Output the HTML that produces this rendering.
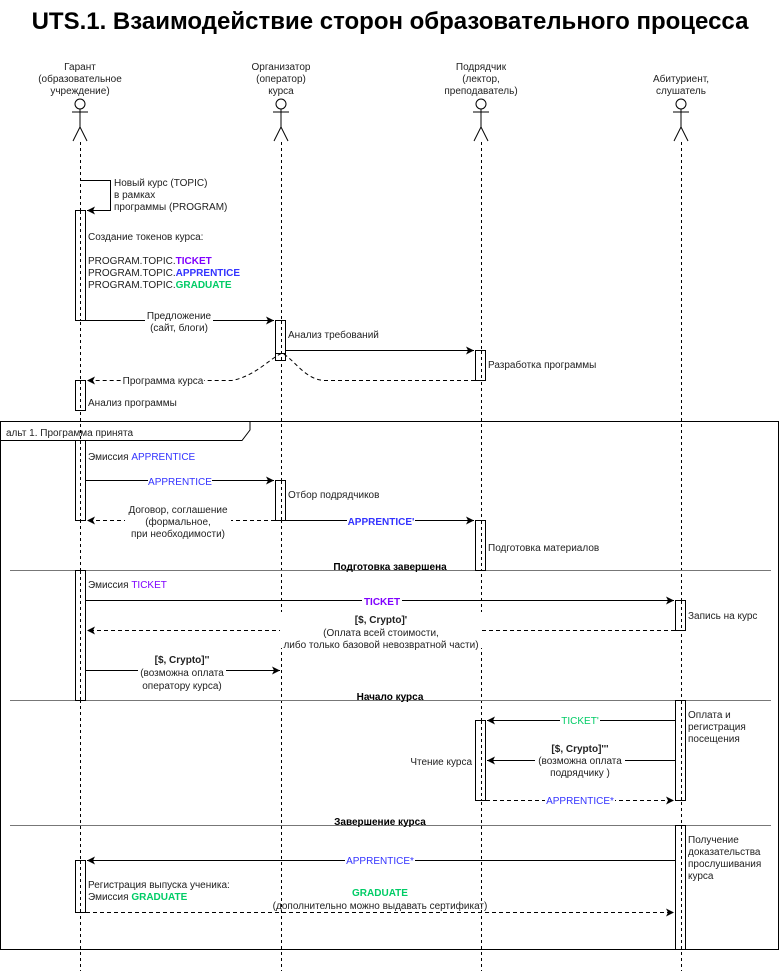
<!DOCTYPE html>
<html><head><meta charset="utf-8"><style>
html,body{margin:0;padding:0;background:#fff;}
svg{display:block;}
text{font-family:"Liberation Sans",sans-serif;font-size:10px;fill:#222;}
.b{font-weight:bold;}
.c{text-anchor:middle;}
.r{text-anchor:end;}
.bl{fill:#3333ff;}
.pu{fill:#7f00ff;}
.gr{fill:#00cc66;}
</style></head><body>
<svg width="781" height="971" viewBox="0 0 781 971" xmlns="http://www.w3.org/2000/svg">
<defs>
<marker id="a" markerWidth="10" markerHeight="10" refX="8" refY="4" orient="auto" markerUnits="userSpaceOnUse"><path d="M0,0 L8,4 L0,8 L2,4 z" fill="#000"/></marker>
</defs>
<text x="390" y="29" class="c b" style="font-size:24px;fill:#000">UTS.1. Взаимодействие сторон образовательного процесса</text>

<g stroke="#000" fill="none" stroke-width="1">
<g id="act"><circle cx="80" cy="104" r="5"/><line x1="72" y1="112" x2="88" y2="112"/><line x1="80" y1="109" x2="80" y2="127"/><line x1="80" y1="127" x2="73" y2="141"/><line x1="80" y1="127" x2="87" y2="141"/></g>
<use href="#act" x="201"/><use href="#act" x="401"/><use href="#act" x="601"/>
</g>
<text x="80" y="70" class="c">Гарант</text><text x="80" y="82" class="c">(образовательное</text><text x="80" y="94" class="c">учреждение)</text>
<text x="281" y="70" class="c">Организатор</text><text x="281" y="82" class="c">(оператор)</text><text x="281" y="94" class="c">курса</text>
<text x="481" y="70" class="c">Подрядчик</text><text x="481" y="82" class="c">(лектор,</text><text x="481" y="94" class="c">преподаватель)</text>
<text x="681" y="82" class="c">Абитуриент,</text><text x="681" y="94" class="c">слушатель</text>

<g stroke="#000" stroke-dasharray="3,3" stroke-width="1">
<line x1="80.5" y1="142" x2="80.5" y2="971"/><line x1="281.5" y1="142" x2="281.5" y2="971"/>
<line x1="481.5" y1="142" x2="481.5" y2="971"/><line x1="681.5" y1="142" x2="681.5" y2="971"/>
</g>

<g fill="none" stroke="#000">
<rect x="0.5" y="421.5" width="778" height="528"/>
<path d="M0.5,440.5 H242 L250,430 V421.5"/>
</g>
<text x="6" y="436">альт 1. Программа принята</text>
<g stroke="#777" stroke-width="1">
<line x1="10" y1="570.5" x2="771" y2="570.5"/>
<line x1="10" y1="700.5" x2="771" y2="700.5"/>
<line x1="10" y1="825.5" x2="771" y2="825.5"/>
</g>
<g>
<rect x="332" y="560" width="115" height="10" fill="#fff"/><text x="390" y="570" class="c b" style="fill:#000">Подготовка завершена</text>
<rect x="352" y="690" width="76" height="10" fill="#fff"/><text x="390" y="700" class="c b" style="fill:#000">Начало курса</text>
<rect x="338" y="815" width="85" height="10" fill="#fff"/><text x="380" y="825" class="c b" style="fill:#000">Завершение курса</text>
</g>

<g fill="#fff" stroke="#000">
<rect x="75.5" y="210.5" width="10" height="110"/>
<rect x="275.5" y="320.5" width="10" height="40"/>
<rect x="275.5" y="353.5" width="10" height="7"/>
<rect x="475.5" y="350.5" width="10" height="30"/>
<rect x="75.5" y="380.5" width="10" height="30"/>
<rect x="75.5" y="440.5" width="10" height="80"/>
<rect x="275.5" y="480.5" width="10" height="40"/>
<rect x="475.5" y="520.5" width="10" height="50"/>
<rect x="75.5" y="570.5" width="10" height="130"/>
<rect x="675.5" y="600.5" width="10" height="30"/>
<rect x="675.5" y="700.5" width="10" height="100"/>
<rect x="475.5" y="720.5" width="10" height="80"/>
<rect x="675.5" y="825.5" width="10" height="124"/>
<rect x="75.5" y="860.5" width="10" height="52"/>
</g>
<g stroke="#000" stroke-dasharray="3,3">
<line x1="80.5" y1="211" x2="80.5" y2="320"/><line x1="281.5" y1="321" x2="281.5" y2="360"/>
<line x1="481.5" y1="351" x2="481.5" y2="380"/><line x1="80.5" y1="381" x2="80.5" y2="410"/>
<line x1="80.5" y1="441" x2="80.5" y2="520"/><line x1="281.5" y1="481" x2="281.5" y2="520"/>
<line x1="481.5" y1="521" x2="481.5" y2="570"/><line x1="80.5" y1="571" x2="80.5" y2="700"/>
<line x1="681.5" y1="601" x2="681.5" y2="630"/><line x1="681.5" y1="701" x2="681.5" y2="800"/>
<line x1="481.5" y1="721" x2="481.5" y2="800"/><line x1="681.5" y1="826" x2="681.5" y2="949"/>
<line x1="80.5" y1="861" x2="80.5" y2="912"/>
</g>

<g fill="none" stroke="#000" stroke-width="1">
<path d="M80,180.5 H110.5 V210.5 H87" marker-end="url(#a)"/>
<path d="M86,320.5 H274" marker-end="url(#a)"/>
<path d="M286,350.5 H474" marker-end="url(#a)"/>
<path d="M475,380.5 H325 C305,380 295,360 282,353 C268,360 255,376 232,380.5 H87" stroke-dasharray="4,3" marker-end="url(#a)"/>
<path d="M86,480.5 H274" marker-end="url(#a)"/>
<path d="M275,520.5 H87" stroke-dasharray="4,3" marker-end="url(#a)"/>
<path d="M286,520.5 H474" marker-end="url(#a)"/>
<path d="M86,600.5 H674" marker-end="url(#a)"/>
<path d="M675,630.5 H87" stroke-dasharray="4,3" marker-end="url(#a)"/>
<path d="M86,670.5 H280" marker-end="url(#a)"/>
<path d="M675,720.5 H487" marker-end="url(#a)"/>
<path d="M675,760.5 H487" marker-end="url(#a)"/>
<path d="M486,800.5 H674" stroke-dasharray="4,3" marker-end="url(#a)"/>
<path d="M675,860.5 H87" marker-end="url(#a)"/>
<path d="M86,912.5 H674" stroke-dasharray="4,3" marker-end="url(#a)"/>
</g>

<text x="114" y="186">Новый курс (TOPIC)</text><text x="114" y="198">в рамках</text><text x="114" y="210">программы (PROGRAM)</text>
<text x="88" y="240">Создание токенов курса:</text>
<text x="88" y="264">PROGRAM.TOPIC.<tspan class="b pu">TICKET</tspan></text>
<text x="88" y="276">PROGRAM.TOPIC.<tspan class="b bl">APPRENTICE</tspan></text>
<text x="88" y="288">PROGRAM.TOPIC.<tspan class="b gr">GRADUATE</tspan></text>
<rect x="145" y="311" width="68" height="22" fill="#fff"/>
<text x="179" y="319" class="c">Предложение</text><text x="179" y="331" class="c">(сайт, блоги)</text>
<text x="288" y="338">Анализ требований</text>
<text x="488" y="368">Разработка программы</text>
<rect x="122" y="375" width="82" height="11" fill="#fff"/>
<text x="163" y="384" class="c">Программа курса</text>
<text x="88" y="406">Анализ программы</text>

<text x="88" y="460">Эмиссия <tspan class="bl">APPRENTICE</tspan></text>
<rect x="148" y="475" width="64" height="11" fill="#fff"/>
<text x="180" y="485" class="c bl">APPRENTICE</text>
<text x="288" y="498">Отбор подрядчиков</text>
<rect x="125" y="503" width="106" height="36" fill="#fff"/>
<text x="178" y="513" class="c">Договор, соглашение</text><text x="178" y="525" class="c">(формальное,</text><text x="178" y="537" class="c">при необходимости)</text>
<rect x="347" y="515" width="68" height="11" fill="#fff"/>
<text x="381" y="525" class="c b bl">APPRENTICE'</text>
<text x="488" y="551">Подготовка материалов</text>

<text x="88" y="588">Эмиссия <tspan class="pu">TICKET</tspan></text>
<rect x="362" y="595" width="40" height="11" fill="#fff"/>
<text x="382" y="605" class="c b pu">TICKET</text>
<text x="688" y="619">Запись на курс</text>
<rect x="280" y="612" width="202" height="36" fill="#fff"/>
<text x="381" y="623" class="c b">[$, Crypto]'</text><text x="381" y="636" class="c">(Оплата всей стоимости,</text><text x="381" y="648" class="c">либо только базовой невозвратной части)</text>
<rect x="138" y="662" width="88" height="24" fill="#fff"/>
<text x="182" y="663" class="c b">[$, Crypto]''</text><text x="182" y="676" class="c">(возможна оплата</text><text x="182" y="689" class="c">оператору курса)</text>

<text x="688" y="718">Оплата и</text><text x="688" y="730">регистрация</text><text x="688" y="742">посещения</text>
<rect x="560" y="715" width="40" height="11" fill="#fff"/>
<text x="580" y="724" class="c gr">TICKET'</text>
<text x="472" y="765" class="r">Чтение курса</text>
<rect x="535" y="753" width="90" height="24" fill="#fff"/>
<text x="580" y="752" class="c b">[$, Crypto]'''</text><text x="580" y="764" class="c">(возможна оплата</text><text x="580" y="776" class="c">подрядчику )</text>
<rect x="545" y="795" width="70" height="11" fill="#fff"/>
<text x="580" y="804" class="c bl">APPRENTICE*</text>

<text x="688" y="843">Получение</text><text x="688" y="855">доказательства</text><text x="688" y="867">прослушивания</text><text x="688" y="879">курса</text>
<rect x="345" y="855" width="70" height="11" fill="#fff"/>
<text x="380" y="864" class="c bl">APPRENTICE*</text>
<text x="88" y="888">Регистрация выпуска ученика:</text>
<text x="88" y="900">Эмиссия <tspan class="b gr">GRADUATE</tspan></text>
<text x="380" y="896" class="c b gr">GRADUATE</text>
<text x="380" y="909" class="c">(дополнительно можно выдавать сертификат)</text>
</svg>
</body></html>
